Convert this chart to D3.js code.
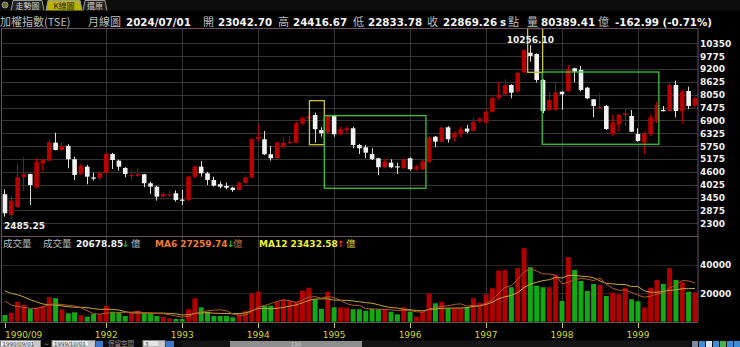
<!DOCTYPE html>
<html lang="zh-Hant">
<head>
<meta charset="UTF-8">
<title>加權指數(TSE) 月線圖</title>
<script src="https://cdn.jsdelivr.net/npm/d3@7"></script>
<style>
  body { margin: 0; background: #000; }
  svg { display: block; }
</style>
</head>
<body>
<script>
// monthly bars, 1990/09 .. 1999/10
const months = d3.timeMonth.range(new Date(1990, 8, 1), new Date(1999, 10, 1));

const open = [3599, 2673, 3018, 4359, 4506, 3912, 4985, 5101, 5906, 5580,
  5758, 5164, 4506, 4833, 4350, 4314, 4565, 5401, 5101, 4775,
  4440, 4417, 4493, 4091, 3939, 3491, 3580, 3643, 3360, 3344,
  4386, 4833, 4537, 4238, 4046, 3970, 3893, 3790, 4091, 4341,
  6071, 6056, 5387, 5208, 5700, 5880, 5906, 6773, 6997, 7144,
  6474, 6353, 7100, 6281, 6474, 6550, 5803, 5700, 5400, 5208,
  4806, 5010, 4850, 4761, 5208, 4717, 4717, 5030, 6174, 5950,
  6594, 6147, 6300, 6535, 6429, 6845, 6800, 7292, 7918, 8070,
  8486, 8186, 9053, 9930, 9872, 8709, 7368, 7368, 8186, 8217,
  9232, 9156, 8366, 7846, 7470, 7547, 6295, 6728, 7144, 7100,
  6295, 5906, 6295, 6845, 7368, 7323, 8486, 7323, 8217, 7592];
const high = [3822, 3536, 4985, 5253, 4520, 5208, 5180, 6058, 6353, 5906,
  5834, 5280, 4950, 4910, 4565, 4640, 5450, 5450, 5140, 4810,
  4683, 4761, 4510, 4162, 3980, 3715, 3760, 3770, 3790, 4420,
  4870, 5088, 4600, 4386, 4162, 4120, 3930, 4180, 4450, 6100,
  6728, 6429, 5758, 5880, 6174, 6206, 6840, 7068, 7100, 7247,
  6594, 7150, 7150, 6620, 6620, 6620, 5850, 5800, 5655, 5230,
  5180, 5164, 5010, 5230, 5240, 4900, 5132, 6206, 6206, 6620,
  6650, 6400, 6620, 6700, 6997, 7040, 7340, 7950, 8633, 8740,
  8520, 9100, 10080, 10256.10, 9900, 8740, 8186, 8562, 8200, 9380,
  9260, 9335, 8400, 7860, 8114, 7600, 7144, 7190, 7444, 7368,
  6550, 6400, 7160, 7740, 7547, 8633, 8680, 8260, 8410, 7950];
const low = [2597, 2485.25, 2973, 3760, 3120, 3867, 4641, 5080, 5560, 5560,
  4761, 4238, 4462, 4046, 4207, 4230, 4520, 4730, 4654, 4359,
  4238, 4400, 3912, 3612, 3313, 3460, 3491, 3268, 3120, 3290,
  4314, 4386, 4015, 3939, 3867, 3822, 3715, 3760, 4080, 4300,
  5950, 5350, 5101, 5180, 5680, 5850, 5880, 6700, 6980, 5906,
  6174, 6300, 6174, 6250, 6330, 5655, 5400, 5208, 5130, 4462,
  4780, 4760, 4506, 4740, 4654, 4654, 4680, 5000, 5700, 5900,
  5906, 5950, 6147, 6330, 6400, 6800, 6770, 7280, 7815, 8040,
  7891, 8150, 9010, 9527, 8600, 7220, 7320, 7320, 7368, 8180,
  8606, 8200, 7850, 7041, 7450, 6474, 6206, 6400, 6620, 6380,
  5950, 5401, 6200, 6780, 7300, 7300, 7041, 6773, 7400, 7490];
const close = [2749, 3313, 4359, 4506, 4015, 5030, 5132, 5924, 5580, 5758,
  5164, 4462, 4877, 4386, 4335, 4565, 5401, 5132, 4833, 4506,
  4462, 4506, 4091, 3939, 3491, 3612, 3599, 3344, 3330, 4386,
  4833, 4537, 4238, 3983, 3939, 3893, 3790, 4120, 4359, 6071,
  6161, 5387, 5208, 5924, 5906, 5950, 6773, 6997, 7068, 6505,
  6326, 7100, 6281, 6505, 6550, 5803, 5655, 5459, 5164, 4806,
  5056, 4806, 4820, 5164, 4717, 4833, 5056, 6147, 5950, 6577,
  6058, 6326, 6505, 6400, 6845, 6997, 7292, 7891, 8038, 8486,
  8141, 9036, 10050, 9782, 8709, 7323, 7815, 8159, 8070, 9188,
  9080, 8262, 7891, 7547, 7500, 6518, 6800, 7144, 7220, 6397,
  5982, 6295, 7041, 7592, 7323, 8486, 7323, 8186, 7547, 7891];
// turnover, 億
const volume = [4735, 6360, 14130, 11800, 8975, 9900, 11100, 17240, 16540, 8760,
  5930, 6640, 4520, 3530, 5440, 5440, 11100, 7070, 6360, 4030,
  6360, 7770, 5930, 5930, 4030, 3530, 2400, 1900, 1900, 8760,
  16540, 10170, 7070, 4030, 4030, 4030, 3100, 5200, 7540, 20070,
  21200, 11300, 11300, 14130, 15330, 14800, 14130, 21900, 24000, 15800,
  8975, 21200, 10170, 10170, 9900, 8760, 8760, 7770, 8975, 8760,
  8975, 7070, 5200, 10170, 7070, 3530, 7070, 20070, 13000, 14130,
  9470, 9470, 9470, 10170, 16540, 13430, 19360, 23600, 36040, 36540,
  24300, 37740, 51870, 38440, 25440, 24300, 24300, 33000, 14630, 45500,
  36540, 28760, 21700, 26640, 25940, 18160, 20500, 19360, 23950.52, 15800,
  14400, 10012, 24000, 29470, 26640, 37770, 29470, 27799.59, 21200, 20678.85];
// 1989/10 .. 1990/08, not drawn: only feeds the first moving-average points
const volumeBefore = [27000, 26000, 30000, 33000, 28000, 28800, 24000, 19000, 16000, 13000, 10865];

const priceTicks = [2300, 2875, 3450, 4025, 4600, 5175, 5750, 6325, 6900, 7475, 8050, 8625, 9200, 9775, 10350];
const volumeTicks = [20000, 40000];
const yearMonths = ["1990/09", "1992/01", "1993/01", "1994/01", "1995/01", "1996/01", "1997/01", "1998/01", "1999/01"];
const yearLabels = ["1990/09", "1992", "1993", "1994", "1995", "1996", "1997", "1998", "1999"];

// marked ranges: month index (fractional) and price levels
const boxes = [
  {from: 48.1, to: 50.45, top: 7784, bottom: 5816, color: "#c9c23c"},
  {from: 50.45, to: 66.5, top: 7113, bottom: 3867, color: "#3cc43c"},
  {from: 82.57, to: 84.94, top: 11200, bottom: 9053, color: "#c9c23c"},
  {from: 84.88, to: 103.3, top: 9066, bottom: 5834, color: "#3cc43c"}
];

const W = 740, H = 347;
const n = months.length;
const fmt = d3.timeFormat("%Y/%m");
const CJK = "'Noto Sans CJK TC', sans-serif";
const NUM = "'DejaVu Sans', sans-serif";

const svg = d3.select("body").append("svg").attr("width", W).attr("height", H);
svg.append("rect").attr("width", W).attr("height", H).attr("fill", "#000");

const plotL = 2, plotR = 698, plotT = 28.5, midY = 236.5, volB = 322;

const x = d3.scaleBand().domain(d3.range(n)).range([1.8, 698.1]);
const cx = i => x(i) + x.bandwidth() / 2;
const xf = d3.scaleLinear().domain([0, n - 1]).range([cx(0), cx(n - 1)]);
const y = d3.scaleLinear().domain([2300, 10350]).range([223.3, 43.3]);
const yv = d3.scaleLinear().domain([0, 40000]).range([321.7, 265]);

const crisp = v => Math.round(v) + 0.5;
const yearIdx = yearMonths.map(m => months.findIndex(d => fmt(d) === m));

// ---- top tab strip ----
const tabs = svg.append("g");
tabs.append("rect").attr("x", 0).attr("y", 0).attr("width", W).attr("height", 10.5).attr("fill", "#0c0c0c");
tabs.append("circle").attr("cx", 5).attr("cy", 5).attr("r", 3).attr("fill", "#6b6b2a").attr("stroke", "#999");
[{t: "走勢圖", x0: 11, w: 33, on: false}, {t: "K線圖", x0: 46, w: 36, on: true}, {t: "還原", x0: 83, w: 24, on: false}]
  .forEach(d => {
    tabs.append("path")
      .attr("d", `M${d.x0},10.5 L${d.x0 + 2},0.5 L${d.x0 + d.w - 2},0.5 L${d.x0 + d.w},10.5`)
      .attr("fill", d.on ? "#b9b300" : "#222").attr("stroke", "#9a9a9a");
    tabs.append("text").attr("x", d.x0 + d.w / 2).attr("y", 8.6).attr("text-anchor", "middle")
      .attr("font-family", CJK).attr("font-size", 8)
      .attr("fill", d.on ? "#1a1a00" : "#d0d0d0").text(d.t);
  });

// ---- quote line ----
const quote = [
  {x: 0, t: "加權指數(TSE)", k: "c"}, {x: 88, t: "月線圖", k: "c"}, {x: 126, t: "2024/07/01", k: "n"},
  {x: 203, t: "開", k: "c"}, {x: 218, t: "23042.70", k: "n"}, {x: 278, t: "高", k: "c"},
  {x: 293, t: "24416.67", k: "n"}, {x: 353, t: "低", k: "c"}, {x: 368, t: "22833.78", k: "n"},
  {x: 427, t: "收", k: "c"}, {x: 443, t: "22869.26", k: "n"}, {x: 500, t: "s", k: "n"},
  {x: 508, t: "點", k: "c"}, {x: 527, t: "量", k: "c"}, {x: 541, t: "80389.41", k: "n"},
  {x: 598, t: "億", k: "c"}, {x: 615, t: "-162.99 (-0.71%)", k: "n"}
];
svg.append("g").selectAll("text").data(quote).join("text")
  .attr("x", d => d.x).attr("y", 26)
  .attr("font-family", d => d.k === "c" ? CJK : NUM)
  .attr("font-size", d => d.k === "c" ? 11 : 10.3)
  .attr("font-weight", d => d.k === "c" ? "normal" : "bold")
  .attr("fill", d => d.k === "c" ? "#bdbdbd" : "#f4f4f4")
  .text(d => d.t);

// ---- grids ----
const grid = svg.append("g").attr("stroke", "#353535").attr("stroke-width", 1);
grid.selectAll(".h").data(priceTicks).join("line")
  .attr("x1", plotL).attr("x2", plotR)
  .attr("y1", d => crisp(y(d))).attr("y2", d => crisp(y(d)));
grid.selectAll(".hv").data(volumeTicks).join("line")
  .attr("x1", plotL).attr("x2", plotR)
  .attr("y1", d => crisp(yv(d))).attr("y2", d => crisp(yv(d))).attr("stroke", "#262626");
grid.selectAll(".v").data(yearIdx.slice(1)).join("line")
  .attr("x1", d => crisp(cx(d))).attr("x2", d => crisp(cx(d)))
  .attr("y1", plotT).attr("y2", volB);

// ---- candles ----
const up = i => close[i] >= open[i];
const RED = "#b80000", WHITE = "#f2f2f2";
const bw = 4.6;
const candles = svg.append("g").selectAll("g").data(d3.range(n)).join("g");
candles.append("line")
  .attr("x1", i => crisp(cx(i) - 0.5)).attr("x2", i => crisp(cx(i) - 0.5))
  .attr("y1", i => y(high[i])).attr("y2", i => y(low[i]))
  .attr("stroke", i => up(i) ? RED : "#dcdcdc");
candles.append("rect")
  .attr("x", i => cx(i) - bw / 2)
  .attr("width", bw)
  .attr("y", i => y(Math.max(open[i], close[i])))
  .attr("height", i => Math.max(1.2, Math.abs(y(open[i]) - y(close[i]))))
  .attr("fill", i => up(i) ? RED : WHITE);

// ---- marked ranges ----
svg.append("g").selectAll("rect").data(boxes).join("rect")
  .attr("x", d => xf(d.from)).attr("width", d => xf(d.to) - xf(d.from))
  .attr("y", d => Math.max(plotT, y(d.top)))
  .attr("height", d => y(d.bottom) - Math.max(plotT, y(d.top)))
  .attr("fill", "none").attr("stroke", d => d.color).attr("stroke-width", 1.3);

// ---- extreme labels ----
const iMin = d3.minIndex(low), iMax = d3.maxIndex(high);
const ext = svg.append("g").attr("font-family", NUM).attr("font-size", 9).attr("font-weight", "bold").attr("fill", "#f0f0f0");
const tLow = ext.append("text").attr("y", y(low[iMin]) + 10).text(d3.format(".2f")(low[iMin]));
tLow.attr("x", Math.max(4, cx(iMin) - tLow.node().getComputedTextLength() / 2));
const tHigh = ext.append("text").attr("y", y(high[iMax]) - 2).text(d3.format(".2f")(high[iMax]));
tHigh.attr("x", cx(iMax) - tHigh.node().getComputedTextLength() / 2);

// ---- volume ----
svg.append("g").selectAll("rect").data(d3.range(n)).join("rect")
  .attr("x", i => cx(i) - 2.5).attr("width", 5)
  .attr("y", i => yv(volume[i])).attr("height", i => yv(0) - yv(volume[i]))
  .attr("fill", i => up(i) ? "#b00000" : "#14a814");

const allVol = volumeBefore.concat(volume);
const ma = k => volume.map((_, i) => {
  const end = i + volumeBefore.length + 1;
  return d3.mean(allVol.slice(end - k, end));
});
const ma6 = ma(6), ma12 = ma(12);
const maLine = d3.line().x((d, i) => cx(i)).y(d => yv(d));
svg.append("path").attr("d", maLine(ma12)).attr("fill", "none").attr("stroke", "#c9a63a").attr("stroke-width", 1);
svg.append("path").attr("d", maLine(ma6)).attr("fill", "none").attr("stroke", "#b5582a").attr("stroke-width", 1);

// volume header
const last = n - 1;
const f2 = d3.format(".2f");
const vh = [
  {x: 3, t: "成交量", c: "#bdbdbd", k: "c"},
  {x: 43, t: "成交量", c: "#bdbdbd", k: "c"},
  {x: 76, t: f2(volume[last]), c: "#f4f4f4", k: "n"},
  {x: 122, t: "↓", c: "#22c022", k: "n"},
  {x: 131, t: "億", c: "#bdbdbd", k: "c"},
  {x: 155, t: "MA6 " + f2(ma6[last]), c: "#f07a30", k: "n"},
  {x: 227, t: "↓", c: "#22c022", k: "n"},
  {x: 233, t: "億", c: "#c87030", k: "c"},
  {x: 259, t: "MA12 " + f2(ma12[last]), c: "#f0f030", k: "n"},
  {x: 337, t: "↑", c: "#ff2a2a", k: "n"},
  {x: 346, t: "億", c: "#d8d830", k: "c"}
];
svg.append("g").selectAll("text").data(vh).join("text")
  .attr("x", d => d.x).attr("y", 247)
  .attr("font-family", d => d.k === "c" ? CJK : NUM)
  .attr("font-size", d => d.k === "c" ? 9.5 : 9)
  .attr("font-weight", d => d.k === "c" ? "normal" : "bold")
  .attr("fill", d => d.c).text(d => d.t);

// ---- frames ----
const frame = svg.append("g").attr("stroke", "#6e4c66").attr("fill", "none");
frame.append("rect").attr("x", plotL - 0.5).attr("y", plotT).attr("width", plotR - plotL + 0.5).attr("height", midY - plotT);
frame.append("line").attr("x1", plotL - 0.5).attr("x2", plotL - 0.5).attr("y1", midY).attr("y2", volB);
frame.append("line").attr("x1", plotR).attr("x2", plotR).attr("y1", midY).attr("y2", volB);
svg.append("line").attr("x1", 0).attr("x2", plotR).attr("y1", volB + 0.5).attr("y2", volB + 0.5).attr("stroke", "#5a5a5a");

// ---- right axes ----
const ax = svg.append("g").attr("font-family", NUM).attr("font-size", 9).attr("font-weight", "bold").attr("fill", "#f0f0f0");
ax.selectAll(".p").data(priceTicks).join("text")
  .attr("x", 700).attr("y", d => y(d) + 3.4).text(d => d);
ax.selectAll(".q").data(volumeTicks).join("text")
  .attr("x", 700).attr("y", d => yv(d) + 3.4).text(d => d);

// ---- time axis ----
const ta = svg.append("g");
ta.selectAll("line").data(yearIdx).join("line")
  .attr("x1", d => crisp(cx(d))).attr("x2", d => crisp(cx(d)))
  .attr("y1", volB + 1).attr("y2", volB + 6).attr("stroke", "#c8c832");
ta.selectAll("text").data(yearIdx).join("text")
  .attr("x", d => cx(d))
  .attr("text-anchor", (d, i) => i === 0 ? "start" : "middle")
  .attr("y", 338)
  .attr("font-family", NUM).attr("font-size", 9).attr("fill", "#d4d430")
  .text((d, i) => yearLabels[i]);

// ---- bottom tool strip ----
const tb = svg.append("g");
tb.append("rect").attr("x", 0).attr("y", 340).attr("width", W).attr("height", 7).attr("fill", "#0a0a0a");
const field = (x0, w, t) => {
  tb.append("rect").attr("x", x0).attr("y", 340.5).attr("width", w).attr("height", 6.5).attr("fill", "#e6e6e6").attr("stroke", "#888");
  tb.append("rect").attr("x", x0 + w - 7).attr("y", 341).attr("width", 6.5).attr("height", 6).attr("fill", "#c8c8c8");
  tb.append("text").attr("x", x0 + 2).attr("y", 346).attr("font-family", NUM).attr("font-size", 5.5).attr("fill", "#333").text(t);
};
field(0.5, 40, "1990/09/01");
tb.append("text").attr("x", 44).attr("y", 345.5).attr("font-family", NUM).attr("font-size", 6).attr("fill", "#aaa").text("~");
field(52, 43, "1999/10/01");
tb.append("rect").attr("x", 96).attr("y", 341).attr("width", 7).attr("height", 6).attr("fill", "#3c78c8");
tb.append("text").attr("x", 108).attr("y", 346).attr("font-family", CJK).attr("font-size", 6.5).attr("fill", "#9a9a9a").text("保留空間");
field(143, 22, "3");
tb.append("rect").attr("x", 166).attr("y", 341).attr("width", 8).attr("height", 6).attr("fill", "#3c78c8");
tb.append("rect").attr("x", 182).attr("y", 341).attr("width", 508).attr("height", 6).attr("fill", "#141414");
tb.append("rect").attr("x", 230).attr("y", 341).attr("width", 132).attr("height", 6).attr("fill", "#8e8e8e");
tb.append("text").attr("x", 296).attr("y", 346).attr("text-anchor", "middle").attr("font-family", NUM).attr("font-size", 5.5).attr("fill", "#d8d8d8").text(n);
["#7a8aa0", "#3c8cd8", "#d8e8f8", "#3c8cd8", "#48b048", "#3c8cd8", "#3c8cd8"].forEach((c, i) => {
  tb.append("rect").attr("x", 692 + i * 7).attr("y", 341).attr("width", 6).attr("height", 6).attr("fill", c);
});
</script>
</body>
</html>
